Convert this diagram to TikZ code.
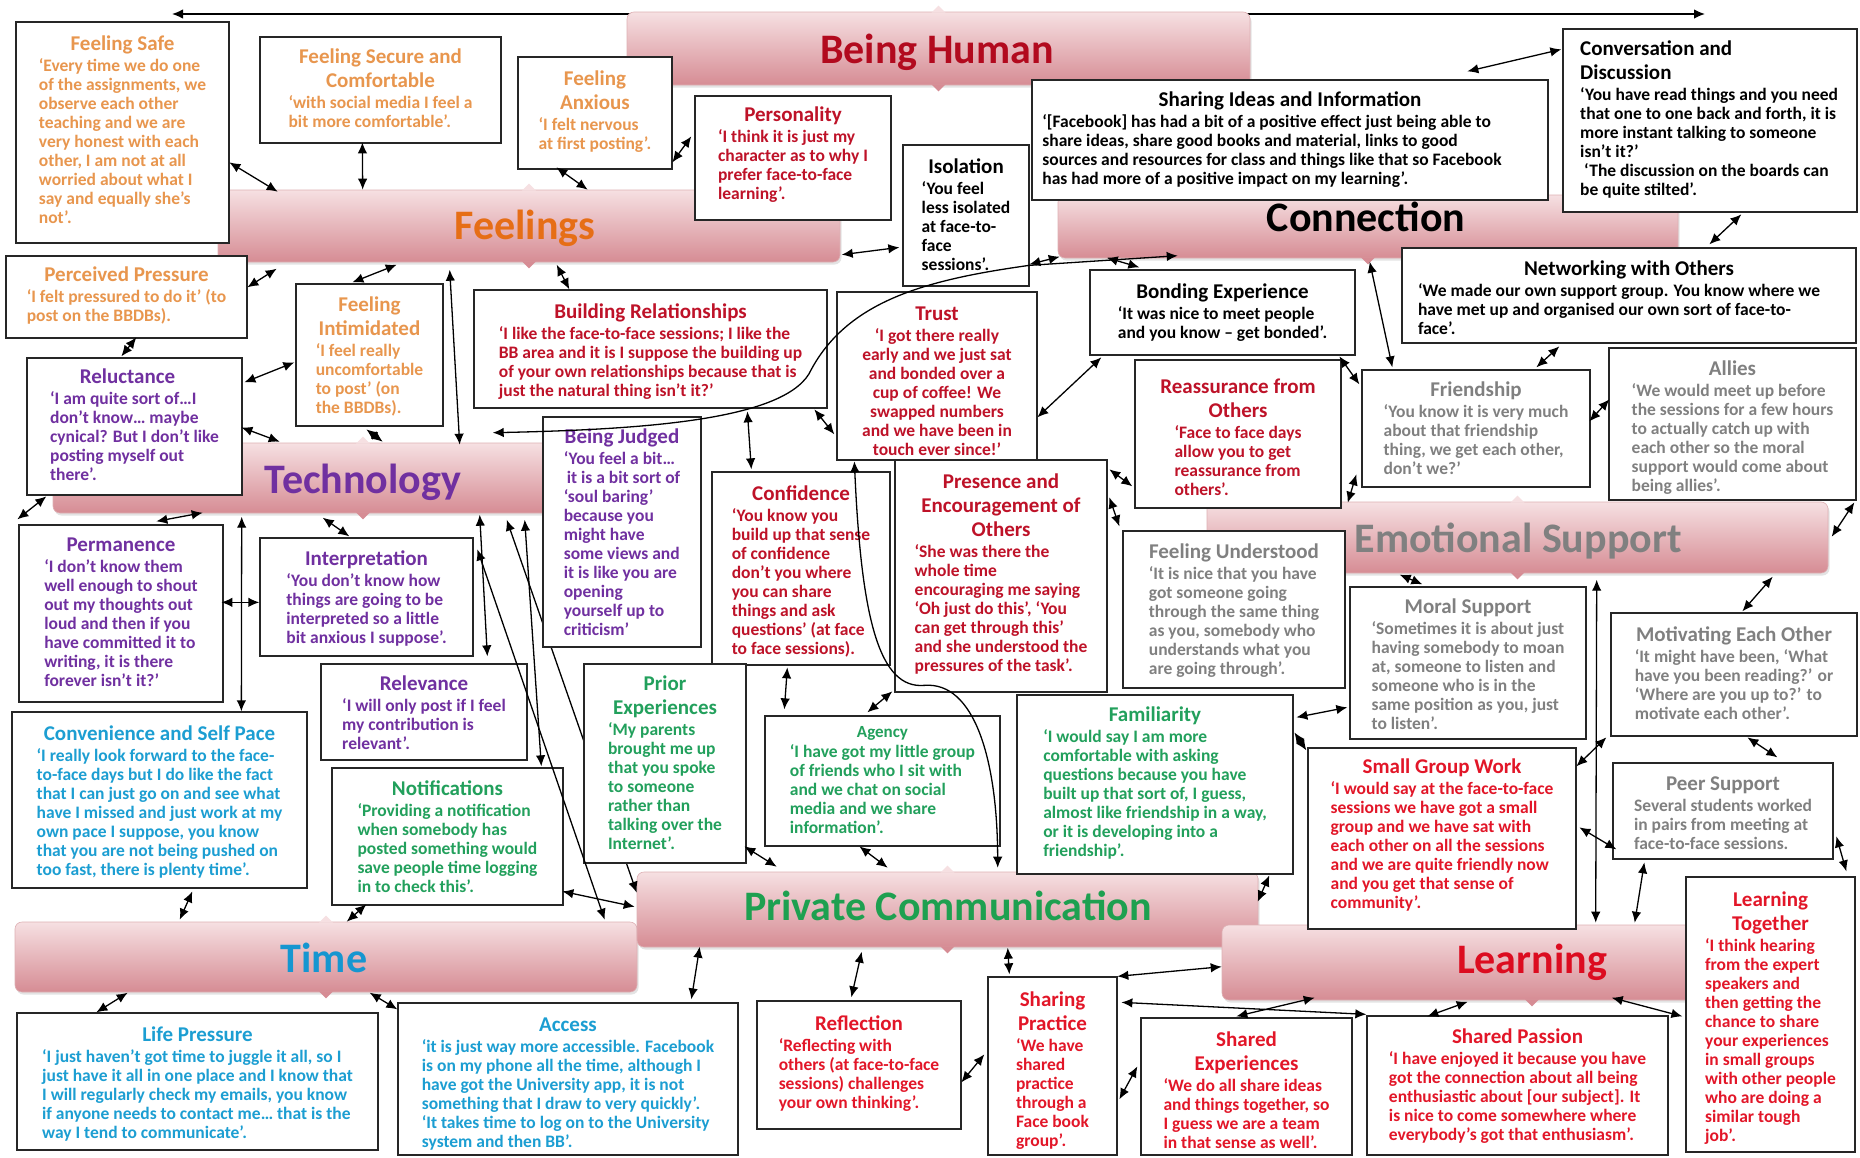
\documentclass[tikz,border=0pt]{standalone}
\usepackage{fontspec}
\setmainfont{Carlito}
\usetikzlibrary{fit,calc,arrows.meta,shadows}

% text colours of the eight themes
\definecolor{cOr}{RGB}{232,150,78}
\definecolor{cHum}{RGB}{190,18,40}
\definecolor{cPur}{RGB}{112,48,160}
\definecolor{cGry}{RGB}{128,128,128}
\definecolor{cGrn}{RGB}{34,160,92}
\definecolor{cCy}{RGB}{28,158,210}
\definecolor{cLrn}{RGB}{226,22,40}
\definecolor{tHum}{RGB}{178,10,30}
\definecolor{tFeel}{RGB}{230,110,22}
\definecolor{tPriv}{RGB}{30,160,80}
\definecolor{tTime}{RGB}{22,150,208}
\definecolor{tLrn}{RGB}{220,12,32}
% banner fill
\definecolor{bnTop}{RGB}{246,224,226}
\definecolor{bnBot}{RGB}{214,140,148}
\definecolor{bnEdge}{RGB}{222,176,180}

\tikzset{
  qframe/.style={draw=black!85, line width=1.3pt, fill=white, inner sep=0pt},
  qtitle/.style={font=\fontsize{21}{24}\selectfont\bfseries, align=center, inner sep=0pt, anchor=north},
  qbody/.style={font=\fontsize{17.5}{19}\selectfont\bfseries, align=left, inner sep=0pt, anchor=north},
  banner/.style={rounded corners=7pt, inner sep=0pt, top color=bnTop, bottom color=bnBot,
    draw=bnEdge, line width=0.6pt,
    drop shadow={opacity=0.22, shadow xshift=1.5pt, shadow yshift=-2.5pt}},
  bntext/.style={font=\fontsize{42}{48}\selectfont\bfseries, anchor=base, inner sep=0pt},
  dar/.style={line width=1.3pt, {Latex[length=11pt,width=9.5pt]}-{Latex[length=11pt,width=9.5pt]}},
  % individual layout tweaks
  convttl/.style={anchor=north west, xshift=-130pt, align=left},
  convtxt/.style={anchor=north west, xshift=-130pt},
  agencyttl/.style={font=\fontsize{17}{20}\selectfont\bfseries},
  sharetxt/.style={xshift=-18pt},
  netwtxt/.style={xshift=-10pt},
  reluctttl/.style={xshift=-7pt},
  trusttxt/.style={align=center},
}

% quote box: name, x1, y1, x2, y2, text options, top padding, title, body
\newcommand\qbox[9]{%
  \node[qframe, fit={(#2,#3) (#4,#5)}] (#1) {};
  \node[qtitle, #6, #1ttl/.try] (#1t) at ([yshift={3-#7}]#1.north) {\strut#8\strut};
  \node[qbody, #6, #1txt/.try] (#1b) at (#1t.south -| #1.north) {\strut#9};
}
% small pointers at the middle of a banner's top and bottom edges
\newcommand\bnotch[1]{%
  \fill[bnTop] ($(#1.north)+(-7,1)$) -- ($(#1.north)+(0,-6)$) -- ($(#1.north)+(7,1)$) -- cycle;
  \fill[bnBot] ($(#1.south)+(-7,-1)$) -- ($(#1.south)+(0,6)$) -- ($(#1.south)+(7,-1)$) -- cycle;
}

\begin{document}
\begin{tikzpicture}[x=1pt, y=-1pt]
\useasboundingbox (0,0) rectangle (1860,1157);
\fill[white] (0,0) rectangle (1860,1157);

% ---------- the long top connector ----------
\coordinate (topL) at (172,14);
\coordinate (topR) at (1705,14);
\draw[dar] (topL) -- (topR);

% ---------- theme banners ----------
\node[banner, fit={(627,12) (1250,85)}] (human) {};
\node[banner, fit={(218,190) (840,262)}] (feel) {};
\node[banner, fit={(1058,195) (1678,258)}] (conn) {};
\node[banner, fit={(53,443) (673,513)}] (tech) {};
\node[banner, fit={(1207,502) (1828,573)}] (emo) {};
\node[banner, fit={(15,922) (637,992)}] (time) {};
\node[banner, fit={(637,872) (1258,947)}] (priv) {};
\node[banner, fit={(1222,925) (1842,1000)}] (learn) {};
\bnotch{human}\bnotch{feel}\bnotch{conn}\bnotch{tech}
\bnotch{emo}\bnotch{time}\bnotch{priv}\bnotch{learn}

\node[bntext, text=tHum] (humanT) at (937,63) {Being Human};
\node[bntext, text=tFeel] (feelT) at (525,239) {Feelings};
\node[bntext, text=black] (connT) at (1366,231) {Connection};
\node[bntext, text=cPur] (techT) at (363,493) {Technology};
\node[bntext, text=cGry] (emoT) at (1518,552) {Emotional Support};
\node[bntext, text=tPriv] (privT) at (948,920) {Private Communication};
\node[bntext, text=tTime] (timeT) at (324,972) {Time};
\node[bntext, text=tLrn] (learnT) at (1532,973) {Learning};

% connector that runs behind the Prior Experiences box
\draw[dar] ($(tech.north west)+(454,77)$) -- ($(priv.north west)+(0,21)$);

% ---------- quote boxes ----------
\qbox{safe}{16}{22}{229}{243}{text=cOr}{15}{Feeling Safe}{‘Every time we do one\\of the assignments, we\\observe each other\\teaching and we are\\very honest with each\\other, I am not at all\\worried about what I\\say and equally she’s\\not’.}
\qbox{secure}{260}{37}{501}{143}{text=cOr}{13}{Feeling Secure and\\Comfortable}{‘with social media I feel a\\bit more comfortable’.}
\qbox{anxious}{518}{57}{672}{169}{text=cOr}{15}{Feeling\\Anxious}{‘I felt nervous\\at first posting’.}
\qbox{press}{6}{256}{247}{338}{text=cOr}{12}{Perceived Pressure}{‘I felt pressured to do it’ (to\\post on the BBDBs).}
\qbox{intim}{296}{284}{443}{426}{text=cOr}{14}{Feeling\\Intimidated}{‘I feel really\\uncomfortable\\to post’ (on\\the BBDBs).}

\qbox{person}{695}{96}{891}{220}{text=cHum}{12}{Personality}{‘I think it is just my\\character as to why I\\prefer face-to-face\\learning’.}
\qbox{build}{474}{290}{827}{408}{text=cHum}{15}{Building Relationships}{‘I like the face-to-face sessions; I like the\\BB area and it is I suppose the building up\\of your own relationships because that is\\just the natural thing isn’t it?’}
\qbox{trust}{837}{292}{1037}{460}{text=cHum}{15}{Trust}{‘I got there really\\early and we just sat\\and bonded over a\\cup of coffee! We\\swapped numbers\\and we have been in\\touch ever since!’}
\qbox{conf}{712}{472}{890}{665}{text=cHum}{15}{Confidence}{‘You know you\\build up that sense\\of confidence\\don't you where\\you can share\\things and ask\\questions’ (at face\\to face sessions).}
\qbox{pres}{895}{460}{1107}{692}{text=cHum}{15}{Presence and\\Encouragement of\\Others}{‘She was there the\\whole time\\encouraging me saying\\‘Oh just do this’, ‘You\\can get through this’\\and she understood the\\pressures of the task’.}
\qbox{reass}{1135}{360}{1341}{508}{text=cHum}{20}{Reassurance from\\Others}{‘Face to face days\\allow you to get\\reassurance from\\others’.}

\qbox{isol}{903}{145}{1029}{286}{text=black}{15}{Isolation}{‘You feel\\less isolated\\at face-to-\\face\\sessions’.}
\qbox{share}{1032}{80}{1548}{200}{text=black}{13}{Sharing Ideas and Information}{‘[Facebook] has had a bit of a positive effect just being able to\\share ideas, share good books and material, links to good\\sources and resources for class and things like that so Facebook\\has had more of a positive impact on my learning’.}
\qbox{conv}{1563}{29}{1857}{212}{text=black}{13}{Conversation and\\Discussion}{‘You have read things and you need\\that one to one back and forth, it is\\more instant talking to someone\\isn’t it?’\\\hspace{4pt}‘The discussion on the boards can\\be quite stilted’.}
\qbox{netw}{1402}{248}{1856}{343}{text=black}{14}{Networking with Others}{‘We made our own support group. You know where we\\have met up and organised our own sort of face-to-\\face’.}
\qbox{bond}{1090}{270}{1355}{355}{text=black}{15}{Bonding Experience}{‘It was nice to meet people\\and you know – get bonded’.}

\qbox{reluct}{27}{358}{242}{495}{text=cPur}{12}{Reluctance}{‘I am quite sort of…I\\don’t know… maybe\\cynical? But I don’t like\\posting myself out\\there’.}
\qbox{judged}{543}{417}{701}{647}{text=cPur}{13}{Being Judged}{‘You feel a bit…\\\hspace{3pt}it is a bit sort of\\‘soul baring’\\because you\\might have\\some views and\\it is like you are\\opening\\yourself up to\\criticism’}
\qbox{perm}{19}{525}{223}{702}{text=cPur}{13}{Permanence}{‘I don’t know them\\well enough to shout\\out my thoughts out\\loud and then if you\\have committed it to\\writing, it is there\\forever isn’t it?’}
\qbox{interp}{260}{538}{473}{656}{text=cPur}{14}{Interpretation}{‘You don’t know how\\things are going to be\\interpreted so a little\\bit anxious I suppose’.}
\qbox{relev}{321}{664}{527}{760}{text=cPur}{13}{Relevance}{‘I will only post if I feel\\my contribution is\\relevant’.}

\qbox{friend}{1362}{370}{1590}{487}{text=cGry}{13}{Friendship}{‘You know it is very much\\about that friendship\\thing, we get each other,\\don’t we?’}
\qbox{allies}{1609}{348}{1856}{500}{text=cGry}{14}{Allies}{‘We would meet up before\\the sessions for a few hours\\to actually catch up with\\each other so the moral\\support would come about\\being allies’.}
\qbox{under}{1123}{531}{1345}{688}{text=cGry}{14}{Feeling Understood}{‘It is nice that you have\\got someone going\\through the same thing\\as you, somebody who\\understands what you\\are going through’.}
\qbox{moral}{1350}{587}{1586}{739}{text=cGry}{13}{Moral Support}{‘Sometimes it is about just\\having somebody to moan\\at, someone to listen and\\someone who is in the\\same position as you, just\\to listen’.}
\qbox{motiv}{1611}{613}{1857}{736}{text=cGry}{15}{Motivating Each Other}{‘It might have been, ‘What\\have you been reading?’ or\\‘Where are you up to?’ to\\motivate each other’.}
\qbox{peer}{1613}{763}{1833}{859}{text=cGry}{14}{Peer Support}{Several students worked\\in pairs from meeting at\\face-to-face sessions.}

\qbox{prior}{584}{664}{746}{863}{text=cGrn}{13}{Prior\\Experiences}{‘My parents\\brought me up\\that you spoke\\to someone\\rather than\\talking over the\\Internet’.}
\qbox{agency}{765}{716}{1000}{846}{text=cGrn}{11}{Agency}{‘I have got my little group\\of friends who I sit with\\and we chat on social\\media and we share\\information’.}
\qbox{famil}{1017}{695}{1293}{874}{text=cGrn}{13}{Familiarity}{‘I would say I am more\\comfortable with asking\\questions because you have\\built up that sort of, I guess,\\almost like friendship in a way,\\or it is developing into a\\friendship’.}
\qbox{notif}{332}{768}{563}{905}{text=cGrn}{14}{Notifications}{‘Providing a notification\\when somebody has\\posted something would\\save people time logging\\in to check this’.}

\qbox{conven}{12}{712}{307}{888}{text=cCy}{15}{Convenience and Self Pace}{‘I really look forward to the face-\\to-face days but I do like the fact\\that I can just go on and see what\\have I missed and just work at my\\own pace I suppose, you know\\that you are not being pushed on\\too fast, there is plenty time’.}
\qbox{life}{17}{1013}{378}{1150}{text=cCy}{15}{Life Pressure}{‘I just haven’t got time to juggle it all, so I\\just have it all in one place and I know that\\I will regularly check my emails, you know\\if anyone needs to contact me… that is the\\way I tend to communicate’.}
\qbox{access}{398}{1003}{738}{1155}{text=cCy}{15}{Access}{‘it is just way more accessible. Facebook\\is on my phone all the time, although I\\have got the University app, it is not\\something that I draw to very quickly’.\\‘It takes time to log on to the University\\system and then BB’.}

\qbox{small}{1308}{748}{1576}{929}{text=cLrn}{12}{Small Group Work}{‘I would say at the face-to-face\\sessions we have got a small\\group and we have sat with\\each other on all the sessions\\and we are quite friendly now\\and you get that sense of\\community’.}
\qbox{ltog}{1686}{877}{1855}{1152}{text=cLrn}{16}{Learning\\Together}{‘I think hearing\\from the expert\\speakers and\\then getting the\\chance to share\\your experiences\\in small groups\\with other people\\who are doing a\\similar tough\\job’.}
\qbox{passion}{1367}{1016}{1668}{1155}{text=cLrn}{14}{Shared Passion}{‘I have enjoyed it because you have\\got the connection about all being\\enthusiastic about [our subject]. It\\is nice to come somewhere where\\everybody’s got that enthusiasm’.}
\qbox{sexp}{1141}{1018}{1352}{1155}{text=cLrn}{15}{Shared\\Experiences}{‘We do all share ideas\\and things together, so\\I guess we are a team\\in that sense as well’.}
\qbox{sprac}{988}{977}{1117}{1155}{text=cLrn}{16}{Sharing\\Practice}{‘We have\\shared\\practice\\through a\\Face book\\group’.}
\qbox{reflect}{757}{1001}{961}{1129}{text=cLrn}{16}{Reflection}{‘Reflecting with\\others (at face-to-face\\sessions) challenges\\your own thinking’.}

% ---------- connectors ----------
\draw[dar] ($(safe.north west)+(214,141)$) -- ($(feel.north west)+(60,2)$);
\draw[dar] ($(secure.north west)+(103,106)$) -- ($(feel.north west)+(145,0)$);
\draw[dar] ($(press.north west)+(242,32)$) -- ($(feel.north west)+(59,79)$);
\draw[dar] ($(intim.north west)+(57,-1)$) -- ($(feel.north west)+(179,75)$);
\draw[dar] ($(press.north west)+(131,82)$) -- ($(reluct.north west)+(95,-1)$);
\draw[dar] ($(reluct.north west)+(218,25)$) -- ($(intim.north west)+(-1,79)$);
\draw[dar] ($(feel.north west)+(232,80)$) -- ($(tech.north west)+(407,2)$);
\draw[dar] ($(anxious.north west)+(39,111)$) -- ($(feel.north west)+(370,0)$);
\draw[dar] ($(anxious.north west)+(155,106)$) -- ($(person.north west)+(-3,41)$);
\draw[dar] ($(feel.north west)+(624,65)$) -- ($(isol.north west)+(-3,103)$);
\draw[dar] ($(feel.north west)+(339,75)$) -- ($(build.north west)+(96,0)$);
\draw[dar] ($(conn.north west)+(120,61)$) -- ($(isol.north west)+(127,121)$)
  .. controls ($(isol.north west)+(27,135)$) and ($(build.north west)+(376,10)$) .. ($(build.north west)+(338,80)$)
  .. controls ($(build.north west)+(316,130)$) and ($(build.north west)+(176,140)$) .. ($(tech.north west)+(440,-10)$);
\draw[dar] ($(isol.north west)+(127,120)$) -- ($(conn.north west)+(2,62)$);
\draw[dar] ($(conn.north west)+(49,63)$) -- ($(bond.north west)+(50,-2)$);
\draw[dar] ($(conn.north west)+(312,67)$) -- ($(friend.north west)+(31,-2)$);
\draw[dar] ($(share.north west)+(436,-8)$) -- ($(conv.north west)+(-1,21)$);
\draw[dar] ($(conv.north west)+(179,186)$) -- ($(netw.north west)+(308,-3)$);
\draw[dar] ($(netw.north west)+(158,99)$) -- ($(friend.north west)+(175,-2)$);
\draw[dar] ($(friend.north west)+(228,52)$) -- ($(allies.north west)+(1,52)$);
\draw[dar] ($(allies.north west)+(246,155)$) -- ($(emo.north west)+(625,35)$);
\draw[dar] ($(emo.north west)+(566,75)$) -- ($(motiv.north west)+(132,-1)$);
\draw[dar] ($(emo.north west)+(193,73)$) -- ($(moral.north west)+(73,-2)$);
\draw[dar] ($(emo.north west)+(390,78)$) -- ($(learn.north west)+(374,-2)$);
\draw[dar] ($(motiv.north west)+(137,125)$) -- ($(peer.north west)+(165,-5)$);
\draw[dar] ($(small.north west)+(269,19)$) -- ($(motiv.north west)+(-4,125)$);
\draw[dar] ($(small.north west)+(272,80)$) -- ($(peer.north west)+(4,87)$);
\draw[dar] ($(peer.north west)+(32,100)$) -- ($(learn.north west)+(413,-2)$);
\draw[dar] ($(peer.north west)+(224,74)$) -- ($(ltog.north west)+(161,-5)$);
\draw[dar] ($(learn.north west)+(246,77)$) -- ($(passion.north west)+(61,1)$);
\draw[dar] ($(learn.north west)+(390,73)$) -- ($(ltog.north west)+(-3,140)$);
\draw[dar] ($(famil.north west)+(280,23)$) -- ($(moral.north west)+(-2,121)$);
\draw[dar] ($(famil.north west)+(278,38)$) -- ($(small.north west)+(-1,3)$);
\draw[dar] ($(emo.north west)+(141,1)$) -- ($(friend.north west)+(-5,105)$);
\draw[dar] ($(pres.north west)+(215,10)$) -- ($(reass.north west)+(-2,127)$);
\draw[dar] ($(pres.north west)+(215,38)$) -- ($(under.north west)+(-3,-4)$);
\draw[dar] ($(trust.north west)+(201,126)$) -- ($(bond.north west)+(12,88)$);
\draw[dar] ($(bond.north west)+(250,87)$) -- ($(friend.north west)+(-2,15)$);
\draw[dar] ($(build.north west)+(274,122)$) -- ($(conf.north west)+(40,-2)$);
\draw[dar] ($(build.north west)+(341,120)$) -- ($(trust.north west)+(-2,143)$);
\draw[dar] ($(trust.north west)+(18,170)$)
  .. controls ($(conf.north west)+(150,148)$) and ($(conf.north west)+(168,218)$) .. ($(pres.north west)+(30,226)$)
  .. controls ($(pres.north west)+(80,222)$) and ($(agency.north west)+(233,44)$) .. ($(priv.north west)+(361,-4)$);
\draw[dar] ($(conf.north west)+(76,196)$) -- ($(agency.north west)+(20,-6)$);
\draw[dar] ($(pres.north west)+(-2,232)$) -- ($(agency.north west)+(103,-3)$);
\draw[dar] ($(perm.north west)+(138,-3)$) -- ($(tech.north west)+(150,70)$);
\draw[dar] ($(reluct.north west)+(20,139)$) -- ($(perm.north west)+(-1,-5)$);
\draw[dar] ($(reluct.north west)+(215,70)$) -- ($(tech.north west)+(227,-1)$);
\draw[dar] ($(intim.north west)+(71,146)$) -- ($(tech.north west)+(330,-1)$);
\draw[dar] ($(tech.north west)+(270,75)$) -- ($(interp.north west)+(90,-1)$);
\draw[dar] ($(perm.north west)+(203,78)$) -- ($(interp.north west)+(0,65)$);
\draw[dar] ($(tech.north west)+(189,74)$) -- ($(conven.north west)+(230,0)$);
\draw[dar] ($(tech.north west)+(427,72)$) -- ($(relev.north west)+(167,-7)$);
\draw[dar] ($(interp.north west)+(218,12)$) -- ($(time.north west)+(590,-2)$);
\draw[dar] ($(tech.north west)+(472,77)$) -- ($(notif.north west)+(210,-1)$);
\draw[dar] ($(notif.north west)+(231,124)$) -- ($(priv.north west)+(-2,35)$);
\draw[dar] ($(prior.north west)+(161,183)$) -- ($(priv.north west)+(140,-5)$);
\draw[dar] ($(agency.north west)+(95,131)$) -- ($(priv.north west)+(251,-4)$);
\draw[dar] ($(priv.north west)+(63,75)$) -- ($(access.north west)+(294,-3)$);
\draw[dar] ($(priv.north west)+(225,80)$) -- ($(reflect.north west)+(95,-3)$);
\draw[dar] ($(priv.north west)+(371,76)$) -- ($(sprac.north west)+(22,-2)$);
\draw[dar] ($(priv.north west)+(621,30)$) -- ($(famil.north west)+(253,181)$);
\draw[dar] ($(sprac.north west)+(130,0)$) -- ($(learn.north west)+(0,42)$);
\draw[dar] ($(sprac.north west)+(134,26)$) -- ($(passion.north west)+(0,-1)$);
\draw[dar] ($(sexp.north west)+(96,-1)$) -- ($(learn.north west)+(93,73)$);
\draw[dar] ($(reflect.north west)+(205,82)$) -- ($(sprac.north west)+(-3,78)$);
\draw[dar] ($(sprac.north west)+(132,123)$) -- ($(sexp.north west)+(-3,49)$);
\draw[dar] ($(time.north west)+(165,-2)$) -- ($(conven.north west)+(181,180)$);
\draw[dar] ($(time.north west)+(332,0)$) -- ($(notif.north west)+(35,137)$);
\draw[dar] ($(time.north west)+(113,71)$) -- ($(life.north west)+(80,0)$);
\draw[dar] ($(time.north west)+(355,71)$) -- ($(access.north west)+(0,7)$);
\end{tikzpicture}
\end{document}
